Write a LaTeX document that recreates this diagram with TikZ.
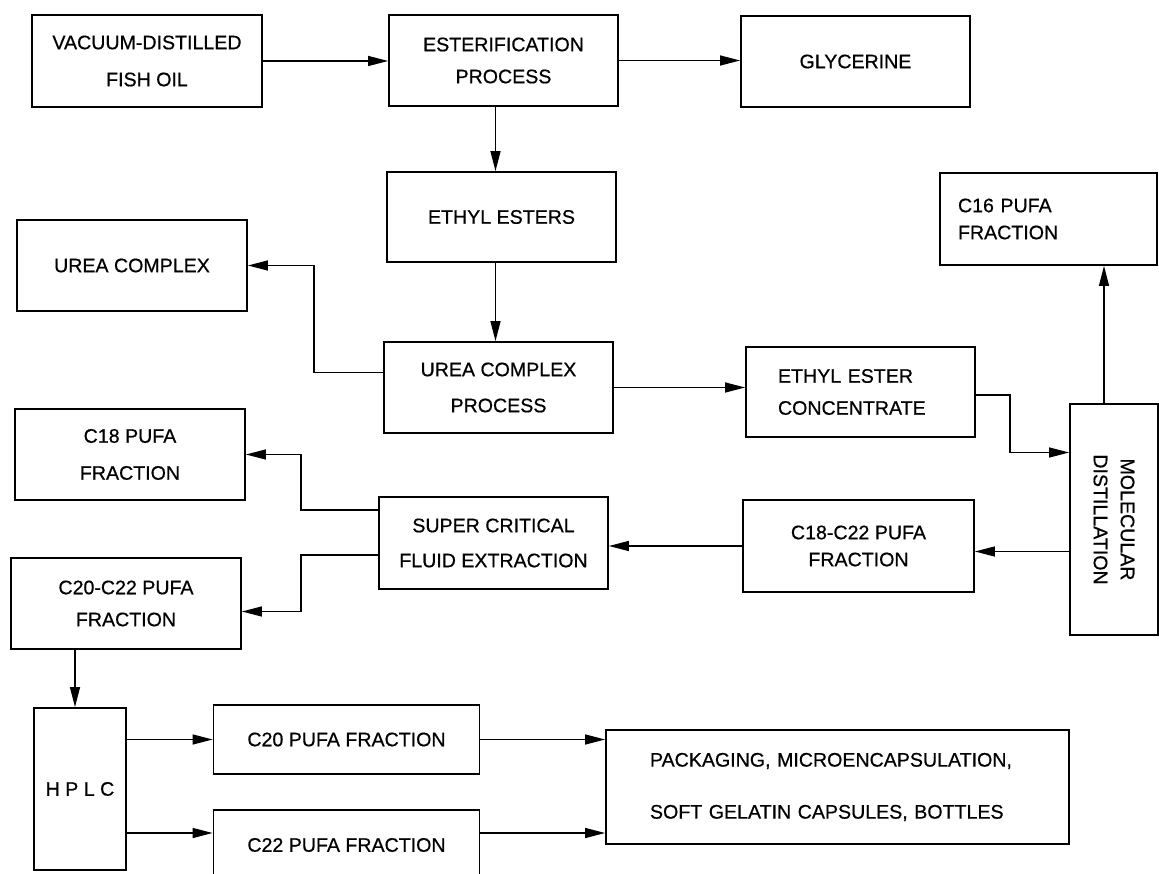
\documentclass[tikz,border=0pt]{standalone}
\usepackage{fontspec}
\setmainfont{Liberation Sans}[BoldFont={Liberation Sans}, BoldFeatures={FakeBold=0.6}]
\usetikzlibrary{arrows.meta,calc}
\begin{document}
\begin{tikzpicture}[x=1pt,y=-1pt,
  bx/.style={draw, line width=1.8pt, inner sep=0pt, align=center},
  arr/.style={line width=1.3pt, -{Triangle[length=20pt,width=10pt]}},
  ls/.style={font=\fontsize{19.6}{#1}\selectfont\bfseries},
  ls/.default=24]
\useasboundingbox (0,0) rectangle (1159,874);

\node[bx, ls=37, minimum width=230pt, minimum height=92pt] (fish) at (147,61) {VACUUM-DISTILLED\\FISH OIL};
\node[bx, ls=32, minimum width=229pt, minimum height=91pt] (ester) at (503.5,60.5) {ESTERIFICATION\\PROCESS};
\node[bx, ls, minimum width=229pt, minimum height=91pt] (glyc) at (855.5,61.5) {GLYCERINE};
\node[bx, ls, minimum width=229pt, minimum height=90pt] (ethyl) at (501.5,217) {ETHYL ESTERS};
\node[bx, ls=27, minimum width=217pt, minimum height=92pt, inner xsep=18pt, text width=181pt, align=left] (c16) at (1048.5,219) {C16 PUFA\\FRACTION};
\node[bx, ls, minimum width=230pt, minimum height=91pt] (ureac) at (132,265.5) {UREA COMPLEX};
\node[bx, ls=36, minimum width=229pt, minimum height=91pt] (ureap) at (498.5,387.5) {UREA COMPLEX\\PROCESS};
\node[bx, ls=32, minimum width=229pt, minimum height=90pt, inner xsep=32pt, text width=165pt, align=left] (eec) at (860.5,392) {ETHYL ESTER\\CONCENTRATE};
\node[bx, ls=37, minimum width=230pt, minimum height=91pt] (c18) at (130,454.5) {C18 PUFA\\FRACTION};
\node[bx, ls=35, minimum width=229pt, minimum height=92pt] (scf) at (493.5,543) {SUPER CRITICAL\\FLUID EXTRACTION};
\node[bx, ls=27, minimum width=231pt, minimum height=92pt] (c1822) at (858.5,546) {C18-C22 PUFA\\FRACTION};
\node[bx, minimum width=88pt, minimum height=231pt] (md) at (1114,519.5) {};
\node[rotate=-90, align=center, inner sep=0pt, ls=27] (mdt) at (md.center) {MOLECULAR\\DISTILLATION};
\node[bx, ls=32, minimum width=230pt, minimum height=91pt] (c2022) at (126,603.5) {C20-C22 PUFA\\FRACTION};
\node[bx, ls, minimum width=92pt, minimum height=162pt] (hplc) at (80,789) {H P L C};
\node[bx, ls, minimum width=266pt, minimum height=69pt] (c20) at (346.5,739.5) {C20 PUFA FRACTION};
\node[bx, ls, minimum width=266pt, minimum height=70pt] (c22) at (346.5,845) {C22 PUFA FRACTION};
\node[bx, ls=52, minimum width=463pt, minimum height=114pt, inner xsep=44pt, text width=375pt, align=left] (pack) at (837.5,787) {PACKAGING, MICROENCAPSULATION,\\SOFT GELATIN CAPSULES, BOTTLES};

% connectors
\draw[arr] (fish.east) -- (fish.east -| ester.west);
\draw[arr] (ester.east) -- (ester.east -| glyc.west);
\coordinate (e1) at ($(ester.south)+(-8,0)$);
\draw[arr] (e1) -- (e1 |- ethyl.north);
\coordinate (e2) at ($(ethyl.south)+(-6,0)$);
\draw[arr] (e2) -- (e2 |- ureap.north);
\draw[arr] ($(ureap.west)+(0,-15)$) -- ++(-69,0) |- (ureac.east);
\draw[arr] (ureap.east) -- (ureap.east -| eec.west);
\draw[arr] ($(eec.east)+(0,3)$) -- ++(34,0) |- ($(md.west)+(0,-67)$);
\coordinate (m1) at ($(md.north)+(-10,0)$);
\draw[arr] (m1) -- (m1 |- c16.south);
\coordinate (m2) at ($(md.west)+(0,32)$);
\draw[arr] (m2) -- (m2 -| c1822.east);
\draw[arr] (c1822.west) -- (c1822.west -| scf.east);
\draw[arr] ($(scf.west)+(0,-33)$) -- ++(-77,0) |- (c18.east);
\draw[arr] ($(scf.west)+(0,12)$) -- ++(-77,0) |- ($(c2022.east)+(0,8)$);
\coordinate (h1) at ($(c2022.south)+(-51,0)$);
\draw[arr] (h1) -- (h1 |- hplc.north);
\draw[arr] (c20.west -| hplc.east) -- (c20.west);
\coordinate (h2) at ($(hplc.east)+(0,44)$);
\draw[arr] (h2) -- (h2 -| c22.west);
\draw[arr] (c20.east) -- (c20.east -| pack.west);
\draw[arr] (h2 -| c22.east) -- (h2 -| pack.west);
\end{tikzpicture}
\end{document}
